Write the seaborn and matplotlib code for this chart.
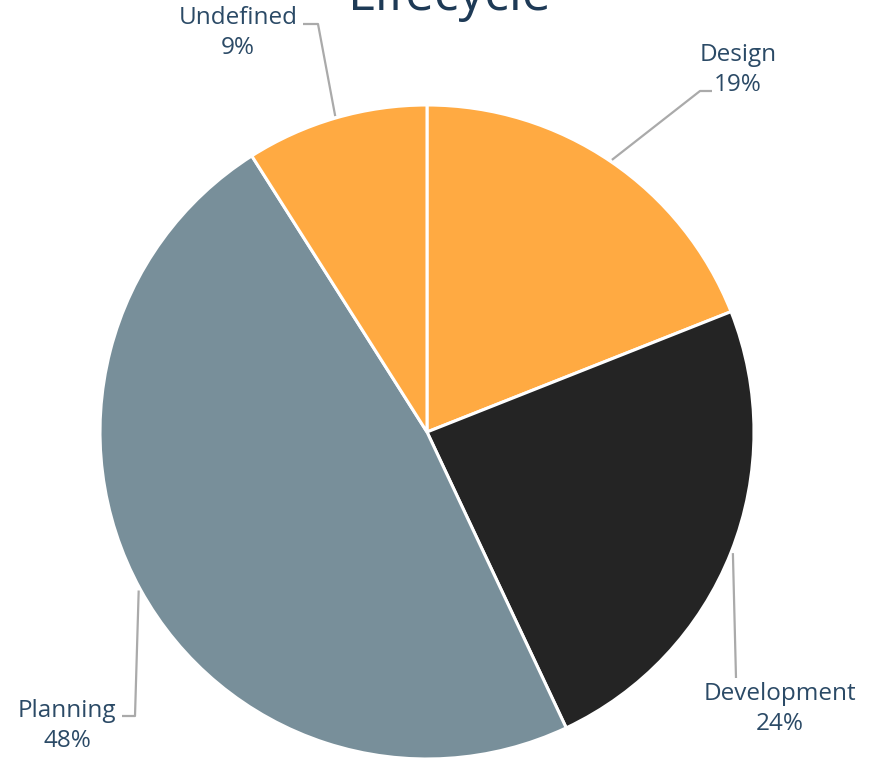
import numpy as np
import matplotlib
matplotlib.use("Agg")
import matplotlib.pyplot as plt
import seaborn as sns

# Lifecycle stage shares (percent)
stages = ["Design", "Development", "Planning", "Undefined"]
shares = [19, 24, 48, 9]
colors = ["#FFAA42", "#242424", "#788F9A", "#FFAA42"]

# label block centres and leader elbows, in pixel space (x right, y down)
label_pos = [(738, 70), (780, 709), (67, 726), (238, 33)]
elbows = [[(700, 91), (712, 91)],
          [(736, 678)],
          [(135, 716), (122, 716)],
          [(318, 24), (303, 24)]]

W, H = 878, 761
sns.set_theme(style="white")
plt.rcParams["font.family"] = ["Open Sans", "DejaVu Sans"]

fig = plt.figure(figsize=(W / 100, H / 100), dpi=100)
ax = fig.add_axes([0, 0, 1, 1])
ax.set_xlim(0, W)
ax.set_ylim(0, H)
ax.set_aspect("equal")
ax.axis("off")

cx, cy, r = 427, 432, 327
wedges, _ = ax.pie(shares, colors=colors, startangle=90, counterclock=False,
                   center=(cx, H - cy), radius=r,
                   wedgeprops=dict(edgecolor="white", linewidth=2.2))
ax.set_xlim(0, W)
ax.set_ylim(0, H)

text_color = "#2B4A66"
for w, name, val, (lx, ly), elb in zip(wedges, stages, shares, label_pos, elbows):
    mid = np.deg2rad((w.theta1 + w.theta2) / 2)
    sx = cx + (r + 2) * np.cos(mid)
    sy = H - cy + (r + 2) * np.sin(mid)
    xs = [sx] + [p[0] for p in elb]
    ys = [sy] + [H - p[1] for p in elb]
    ax.plot(xs, ys, color="#AAAAAA", lw=1.6, solid_capstyle="butt")
    ax.text(lx, H - ly, f"{name}\n{val}%", ha="center", va="center",
            fontsize=17.5, color=text_color, linespacing=1.3)

fig.text(449 / W, 1 - 10 / H, "Lifecycle", ha="center", va="baseline",
         fontsize=37, color="#1E3A56")

fig.savefig("out.png", dpi=100)
